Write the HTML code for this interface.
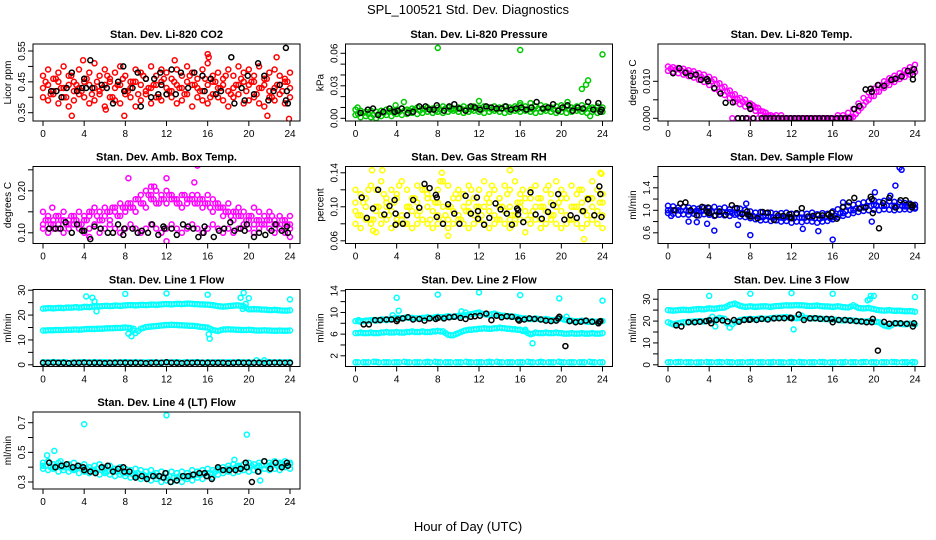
<!DOCTYPE html>
<html><head><meta charset="utf-8"><style>
html,body{margin:0;padding:0;background:#fff;}
svg{display:block;font-family:"Liberation Sans",Arial,sans-serif;}
</style></head><body>
<svg id="chart" width="936" height="540" viewBox="0 0 936 540" xmlns="http://www.w3.org/2000/svg">
<text x="468" y="14" text-anchor="middle" font-size="13">SPL_100521  Std. Dev. Diagnostics</text>
<text x="468" y="531" text-anchor="middle" font-size="13">Hour of Day (UTC)</text>
</svg>
<script>
const halfHours=[0,0.5,1,1.5,2,2.5,3,3.5,4,4.5,5,5.5,6,6.5,7,7.5,8,8.5,9,9.5,10,10.5,11,11.5,12,12.5,13,13.5,14,14.5,15,15.5,16,16.5,17,17.5,18,18.5,19,19.5,20,20.5,21,21.5,22,22.5,23,23.5,24];
const quarterHours=[0.25,0.75,1.25,1.75,2.25,2.75,3.25,3.75,4.25,4.75,5.25,5.75,6.25,6.75,7.25,7.75,8.25,8.75,9.25,9.75,10.25,10.75,11.25,11.75,12.25,12.75,13.25,13.75,14.25,14.75,15.25,15.75,16.25,16.75,17.25,17.75,18.25,18.75,19.25,19.75,20.25,20.75,21.25,21.75,22.25,22.75,23.25,23.75];
const hours=[0,1,2,3,4,5,6,7,8,9,10,11,12,13,14,15,16,17,18,19,20,21,22,23,24];
const quarterZeroHours=[6.25,6.75,7.25,7.75,8.25,8.75,9.25,9.75,10.25,10.75,11.25,11.75,12.25,12.75,13.25,13.75,14.25,14.75,15.25,15.75,16.25,16.75,17.25,17.75];
const quarterZeroVals=[0,0,0,0,0,0,0,0,0,0,0,0,0,0,0,0,0,0,0,0,0,0,0,0];
const xTicks=[0,4,8,12,16,20,24];

// P1 CO2
const co2A=[0.47,0.49,0.46,0.48,0.50,0.47,0.45,0.49,0.46,0.48,0.51,0.47,0.49,0.46,0.48,0.50,0.47,0.45,0.49,0.48,0.46,0.50,0.47,0.49,0.48,0.46,0.49,0.47,0.50,0.48,0.46,0.49,0.51,0.47,0.48,0.46,0.49,0.47,0.50,0.48,0.49,0.47,0.50,0.46,0.48,0.49,0.47,0.46,0.48];
const co2B=[0.43,0.44,0.42,0.45,0.43,0.44,0.42,0.43,0.45,0.44,0.43,0.42,0.44,0.45,0.43,0.44,0.42,0.43,0.45,0.44,0.42,0.43,0.44,0.45,0.43,0.42,0.44,0.43,0.45,0.44,0.43,0.42,0.44,0.45,0.43,0.44,0.42,0.43,0.44,0.45,0.44,0.45,0.43,0.44,0.42,0.43,0.44,0.45,0.43];
const co2C=[0.40,0.39,0.41,0.38,0.40,0.37,0.39,0.41,0.40,0.38,0.39,0.41,0.37,0.40,0.39,0.38,0.41,0.40,0.37,0.39,0.41,0.38,0.40,0.39,0.41,0.40,0.38,0.39,0.41,0.37,0.40,0.39,0.38,0.41,0.40,0.39,0.37,0.40,0.41,0.38,0.39,0.40,0.38,0.37,0.40,0.39,0.41,0.38,0.40];
const co2D=[0.45,0.41,0.46,0.43,0.40,0.47,0.44,0.42,0.46,0.41,0.45,0.43,0.47,0.40,0.44,0.46,0.42,0.45,0.41,0.47,0.43,0.44,0.40,0.46,0.42,0.45,0.43,0.41,0.47,0.44,0.42,0.46,0.40,0.45,0.43,0.47,0.41,0.44,0.46,0.42,0.45,0.41,0.43,0.46,0.40,0.44,0.42,0.45];
const co2OutH=[3.9,2.8,7.9,16,16.1,22.7,23.9,12.8,21.8,6.1];
const co2OutV=[0.52,0.34,0.34,0.54,0.53,0.53,0.33,0.52,0.34,0.36];
const co2KH=[0.8,1.3,1.8,2.3,2.8,3.3,3.8,4,4.2,4.6,4.8,5.7,6.2,6.8,7.3,7.8,7.9,8.7,9.2,9.5,10,10.5,10.8,11.2,11.4,11.5,12,12.5,12.9,13.4,14.1,14.7,15.5,15.7,16.3,16.8,17.3,18.3,18.6,19.3,19.6,19.9,20.5,20.9,21.5,21.9,22.4,23,23.6,23.7,23.6,23.8];
const co2KV=[0.42,0.42,0.40,0.43,0.48,0.42,0.43,0.46,0.43,0.52,0.43,0.44,0.43,0.38,0.45,0.50,0.42,0.43,0.48,0.37,0.46,0.40,0.46,0.41,0.48,0.44,0.41,0.49,0.41,0.48,0.43,0.48,0.47,0.42,0.46,0.41,0.42,0.53,0.38,0.43,0.39,0.47,0.41,0.51,0.47,0.39,0.42,0.44,0.56,0.42,0.39,0.38];

// P2 pressure
const prA=[0.008,0.007,0.006,0.007,0.006,0.007,0.008,0.007,0.008,0.009,0.008,0.009,0.010,0.009,0.010,0.009,0.010,0.011,0.010,0.009,0.010,0.011,0.010,0.011,0.010,0.011,0.010,0.011,0.010,0.011,0.010,0.011,0.012,0.011,0.010,0.011,0.012,0.011,0.010,0.011,0.012,0.011,0.010,0.011,0.012,0.011,0.010,0.011,0.010];
const prB=[0.003,0.001,0.002,0.001,0.000,0.002,0.003,0.002,0.004,0.003,0.004,0.005,0.004,0.005,0.006,0.005,0.006,0.005,0.006,0.007,0.006,0.005,0.006,0.007,0.006,0.005,0.006,0.007,0.006,0.005,0.006,0.007,0.006,0.007,0.006,0.005,0.006,0.007,0.006,0.005,0.006,0.005,0.006,0.007,0.006,0.005,0.006,0.005,0.006];
const prC=[0.004,0.005,0.004,0.003,0.004,0.005,0.006,0.005,0.006,0.007,0.007,0.008,0.007,0.008,0.008,0.007,0.008,0.009,0.008,0.008,0.009,0.008,0.008,0.009,0.008,0.009,0.008,0.008,0.009,0.008,0.009,0.008,0.009,0.008,0.008,0.009,0.008,0.009,0.008,0.008,0.009,0.008,0.009,0.008,0.008,0.009,0.008,0.008];
const prOutH=[8,16,24,22,22.4,22.6,4.7,12,16,17,20.6,3.9,22.8,0.2];
const prOutV=[0.065,0.063,0.059,0.027,0.031,0.035,0.015,0.016,0.014,0.014,0.015,0.012,0.002,0.010];
const prKH=[0.5,1.2,1.7,2.2,2.7,3.3,3.8,4.1,4.5,5.1,5.6,6.2,6.8,7.2,7.6,7.9,8.6,9.1,9.6,10.1,10.7,11.2,11.6,12.1,12.7,13.2,13.7,14.2,14.6,15.1,15.6,16.1,16.6,17.1,17.6,18.2,18.7,19.2,19.7,20.1,20.6,21.1,21.6,22.1,22.6,23.1,23.6,23.8,23.9];
const prKV=[0.005,0.008,0.009,0.003,0.006,0.009,0.006,0.007,0.009,0.005,0.006,0.011,0.011,0.008,0.008,0.012,0.007,0.011,0.013,0.009,0.007,0.011,0.010,0.008,0.011,0.010,0.009,0.009,0.011,0.008,0.009,0.010,0.008,0.010,0.015,0.009,0.010,0.013,0.007,0.010,0.012,0.007,0.010,0.009,0.015,0.008,0.014,0.006,0.008];

// P3 Li-820 temp
const ltA=[0.0140,0.0138,0.0136,0.0134,0.0130,0.0127,0.0122,0.0118,0.0112,0.0105,0.0095,0.0085,0.0075,0.0065,0.0055,0.0050,0.0040,0.0030,0.0020,0.0015,0.0008,0.0008,0.0008,0,0,0,0,0,0,0,0,0,0,0.0008,0.0008,0.0015,0.0025,0.0040,0.0055,0.0070,0.0080,0.0090,0.0100,0.0108,0.0115,0.0122,0.0130,0.0138,0.0145];
const ltB=[0.0128,0.0125,0.0122,0.0118,0.0114,0.0110,0.0104,0.0098,0.0090,0.0080,0.0072,0.0063,0.0055,0.0045,0.0038,0.0032,0.0028,0.0020,0.0010,0.0002,0,0,0,0,0,0,0,0,0,0,0,0,0,0,0,0,0.0004,0.0020,0.0035,0.0050,0.0060,0.0072,0.0082,0.0090,0.0098,0.0106,0.0112,0.0118,0.0125];
const ltC=[0.0134,0.0132,0.0130,0.0126,0.0122,0.0118,0.0112,0.0106,0.0100,0.0092,0.0082,0.0072,0.0062,0.0052,0.0045,0.0040,0.0035,0.0028,0.0018,0.0008,0.0004,0,0,0,0,0,0,0,0,0,0,0,0,0,0,0.0004,0.0012,0.0028,0.0045,0.0060,0.0072,0.0084,0.0094,0.0102,0.0110,0.0116,0.0124,0.0132];
const ltKH=[0.5,1.1,1.7,2.2,2.7,3.2,3.8,3.9,4.5,5.1,5.6,6.3,7.9,8.0,6.8,7.2,7.6,8.3,9.1,9.5,9.9,10.3,10.7,11.1,11.5,11.9,12.3,12.7,13.1,13.5,13.9,14.3,14.7,15.1,15.5,15.9,16.4,16.8,17.2,17.6,18.1,18.6,19.2,19.7,19.8,20.4,21,21.7,22.1,22.7,23.3,23.8,23.9,23.8];
const ltKV=[0.0122,0.0135,0.0123,0.0115,0.0118,0.0104,0.0106,0.0100,0.0082,0.0067,0.0042,0.0043,0.0035,0.0025,0,0,0,0,0,0,0,0,0,0,0,0,0,0,0,0,0,0,0,0,0,0,0,0,0,0,0.0025,0.0033,0.0078,0.0080,0.0072,0.0090,0.0088,0.0104,0.0107,0.0113,0.0128,0.0118,0.0133,0.0105];

// P4 ambient box temp
const abA=[0.15,0.14,0.13,0.14,0.15,0.13,0.14,0.15,0.14,0.15,0.16,0.15,0.16,0.15,0.16,0.17,0.16,0.17,0.18,0.19,0.20,0.19,0.20,0.19,0.20,0.19,0.18,0.19,0.18,0.19,0.19,0.18,0.19,0.18,0.17,0.16,0.17,0.15,0.16,0.15,0.14,0.16,0.15,0.14,0.15,0.13,0.14,0.13,0.14];
const abB=[0.12,0.13,0.12,0.11,0.13,0.12,0.13,0.12,0.13,0.14,0.12,0.13,0.14,0.13,0.15,0.14,0.15,0.16,0.15,0.17,0.16,0.18,0.17,0.18,0.17,0.18,0.17,0.16,0.17,0.18,0.17,0.16,0.17,0.15,0.16,0.14,0.15,0.13,0.14,0.12,0.13,0.12,0.13,0.12,0.13,0.12,0.11,0.12,0.12];
const abC=[0.11,0.10,0.11,0.12,0.10,0.11,0.12,0.11,0.10,0.11,0.12,0.10,0.11,0.12,0.11,0.10,0.11,0.12,0.11,0.10,0.11,0.12,0.11,0.10,0.11,0.12,0.11,0.10,0.11,0.12,0.11,0.10,0.11,0.12,0.11,0.10,0.11,0.10,0.11,0.12,0.11,0.10,0.11,0.12,0.11,0.10,0.11,0.10,0.11];
const abD=[0.13,0.12,0.14,0.13,0.12,0.14,0.13,0.12,0.13,0.15,0.14,0.13,0.15,0.16,0.14,0.16,0.17,0.16,0.18,0.17,0.19,0.18,0.17,0.18,0.19,0.18,0.17,0.19,0.18,0.17,0.18,0.17,0.16,0.17,0.16,0.15,0.14,0.15,0.14,0.13,0.14,0.13,0.12,0.13,0.14,0.12,0.13,0.12];
const abOutH=[8.3,12,14.7,15,0.9,4.5,12,24,10.5,10.8];
const abOutV=[0.23,0.23,0.22,0.26,0.16,0.09,0.08,0.09,0.21,0.21];
const abKH=[0.6,1.2,1.7,2.2,2.8,3.3,3.8,4.0,4.6,5.0,5.6,6.3,6.8,7.3,7.8,7.9,8.7,9.2,9.6,10.2,10.6,11.2,11.7,11.8,12.5,13.0,13.6,14.1,14.6,15.1,15.6,15.7,16.6,17.1,17.6,18.2,18.6,19.2,19.6,19.8,20.5,21.0,21.6,22.2,22.6,23.2,23.7,23.8];
const abKV=[0.11,0.11,0.11,0.125,0.10,0.12,0.105,0.105,0.085,0.115,0.11,0.10,0.10,0.12,0.095,0.11,0.11,0.10,0.105,0.10,0.12,0.095,0.115,0.11,0.11,0.095,0.12,0.115,0.11,0.09,0.10,0.115,0.09,0.105,0.11,0.125,0.105,0.11,0.105,0.12,0.09,0.10,0.095,0.105,0.12,0.105,0.115,0.10];

// P5 RH
const rhA=[0.12,0.115,0.11,0.125,0.12,0.13,0.11,0.12,0.115,0.13,0.12,0.11,0.125,0.12,0.115,0.11,0.12,0.13,0.125,0.11,0.12,0.115,0.125,0.11,0.12,0.13,0.115,0.12,0.11,0.125,0.12,0.13,0.115,0.11,0.12,0.125,0.11,0.12,0.115,0.13,0.12,0.11,0.125,0.115,0.12,0.11,0.13,0.12,0.115];
const rhB=[0.095,0.09,0.1,0.085,0.095,0.09,0.1,0.095,0.085,0.09,0.1,0.095,0.09,0.085,0.1,0.095,0.09,0.1,0.085,0.095,0.09,0.1,0.095,0.09,0.085,0.1,0.095,0.09,0.1,0.095,0.085,0.09,0.1,0.095,0.09,0.1,0.085,0.095,0.09,0.1,0.095,0.09,0.085,0.1,0.095,0.09,0.1,0.095,0.09];
const rhC=[0.08,0.075,0.085,0.08,0.07,0.08,0.085,0.075,0.08,0.085,0.08,0.075,0.08,0.085,0.08,0.075,0.08,0.085,0.075,0.08,0.085,0.08,0.075,0.08,0.085,0.08,0.075,0.08,0.085,0.08,0.075,0.08,0.085,0.07,0.08,0.085,0.075,0.08,0.085,0.08,0.075,0.08,0.085,0.08,0.075,0.08,0.085,0.08,0.075];
const rhD=[0.105,0.11,0.1,0.105,0.11,0.1,0.105,0.11,0.105,0.1,0.11,0.105,0.1,0.105,0.11,0.1,0.105,0.11,0.1,0.105,0.11,0.1,0.105,0.11,0.105];
const rhE=[0.09,0.105,0.12,0.085,0.1,0.115,0.09,0.105,0.125,0.08,0.1,0.11,0.095,0.12,0.085,0.105,0.13,0.09,0.1,0.115,0.085,0.095,0.12,0.1,0.09,0.11,0.125,0.085,0.1,0.115,0.09,0.105,0.12,0.085,0.095,0.11,0.1,0.125,0.09,0.105,0.115,0.085,0.1,0.12,0.095,0.11,0.09,0.105];
const rhOutH=[1.6,2.6,15,8.4,23.8,23.9,9,22.2,1.7];
const rhOutV=[0.143,0.143,0.143,0.14,0.14,0.139,0.066,0.062,0.072];
const rhKH=[0.6,1.1,1.7,2.2,2.8,3.3,3.8,3.9,3.9,4.6,5.0,5.6,6.2,6.7,7.2,7.8,7.9,7.9,8.5,9.0,9.6,10.1,10.7,11.2,11.8,11.9,11.9,12.5,13.0,13.6,14.1,14.7,15.2,15.7,15.8,15.8,16.3,17.0,17.5,18.1,18.7,19.2,19.7,20.3,20.9,21.5,22.1,22.6,23.2,23.7,23.8,23.9];
const rhKV=[0.111,0.087,0.098,0.12,0.091,0.101,0.108,0.092,0.079,0.08,0.09,0.108,0.099,0.127,0.122,0.114,0.111,0.088,0.08,0.103,0.092,0.08,0.113,0.092,0.111,0.086,0.095,0.079,0.087,0.104,0.097,0.092,0.079,0.098,0.096,0.091,0.082,0.117,0.091,0.086,0.094,0.102,0.115,0.085,0.09,0.087,0.095,0.109,0.09,0.124,0.115,0.088];

// P6 sample flow
const sfA=[1.08,1.07,1.05,1.06,1.05,1.04,1.03,1.05,1.04,1.06,1.03,1.05,1.02,1.04,1.03,1.01,0.98,0.96,0.97,0.95,0.96,0.94,0.95,0.96,0.94,0.93,0.95,0.94,0.96,0.93,0.95,0.94,0.98,1.02,1.05,1.08,1.10,1.12,1.14,1.16,1.18,1.15,1.17,1.16,1.15,1.14,1.13,1.12,1.10];
const sfB=[0.95,0.94,0.92,0.93,0.92,0.94,0.91,0.93,0.92,0.90,0.92,0.91,0.90,0.92,0.89,0.88,0.86,0.84,0.82,0.83,0.81,0.82,0.80,0.81,0.78,0.80,0.79,0.81,0.80,0.78,0.80,0.81,0.84,0.88,0.90,0.92,0.95,0.97,0.99,1.00,1.01,1.00,1.02,1.01,1.00,1.01,1.02,1.01,1.03];
const sfC=[1.0,1.0,0.98,0.99,0.98,0.97,0.97,0.95,0.90,0.88,0.88,0.87,0.86,0.87,0.87,0.87,0.88,0.95,1.00,1.05,1.10,1.08,1.08,1.07,1.05];
const sfD=[1.01,1.0,0.99,1.0,0.98,0.99,0.98,0.99,0.97,0.98,0.97,0.96,0.95,0.94,0.95,0.92,0.90,0.89,0.88,0.89,0.87,0.88,0.86,0.87,0.86,0.87,0.86,0.87,0.86,0.85,0.87,0.86,0.90,0.95,0.98,1.00,1.03,1.05,1.07,1.08,1.09,1.08,1.09,1.08,1.07,1.08,1.07,1.06];
const sfOutH=[0.3,2,2.8,3.8,4.5,8,7.6,13.1,14.6,16,17,20.1,21.6,22.1,22.5,22.7,19.8,6.8];
const sfOutV=[0.9,0.8,0.79,0.76,0.64,0.56,1.12,0.67,0.63,0.48,1.14,1.32,1.26,1.44,1.76,1.72,0.8,0.74];
const sfKH=[0.6,1.2,1.7,2.2,2.8,3.3,3.8,3.9,4.0,4.6,5.0,5.6,6.2,6.7,7.2,7.7,7.8,8.0,8.7,9.2,9.7,10.3,10.7,11.2,11.8,11.9,12.0,12.5,13.0,13.6,14.1,14.6,15.0,15.6,15.8,15.9,16.4,17.0,17.6,18.1,18.6,19.2,19.7,19.8,19.9,20.5,20.9,21.5,22.1,22.6,23.1,23.6,23.7,23.8];
const sfKV=[1.0,1.12,1.14,1.0,0.91,1.06,0.97,1.05,0.95,0.91,0.98,0.92,1.09,1.04,0.93,0.98,0.92,0.89,0.86,0.97,0.96,0.83,0.91,0.90,0.93,0.88,0.86,0.95,1.04,0.89,0.90,0.91,0.91,0.92,0.89,0.96,0.85,1.06,1.14,1.22,1.03,1.05,1.24,1.20,0.95,0.68,1.13,1.22,1.05,1.18,1.18,1.10,1.05,1.09];

// P7 line 1
const l1A=[22.6,22.8,22.7,22.9,22.8,23.0,23.1,23.0,23.3,23.2,23.4,23.5,23.7,23.6,23.8,23.7,23.9,24.0,23.9,24.1,24.0,24.2,24.1,24.3,24.4,24.3,24.5,24.4,24.6,24.5,24.4,24.3,24.2,24.0,23.6,23.4,23.6,23.8,23.9,23.5,22.3,22.4,22.3,22.2,22.0,22.1,21.9,21.8,21.9];
const l1D=[22.7,22.8,22.8,22.9,23.0,23.0,23.2,23.1,23.3,23.4,23.6,23.6,23.7,23.7,23.8,23.8,24.0,24.0,24.0,24.1,24.1,24.2,24.2,24.4,24.4,24.4,24.5,24.5,24.6,24.4,24.3,24.2,24.1,23.8,23.5,23.5,23.7,23.9,23.7,22.9,22.3,22.3,22.2,22.1,22.0,22.0,21.8,21.8];
const l1B=[13.8,13.9,13.9,14.0,14.0,14.1,14.2,14.1,14.3,14.4,14.4,14.5,14.6,14.7,14.8,14.8,15.0,14.8,12.8,14.5,15.2,15.4,15.6,15.8,16.0,16.1,16.0,15.9,15.8,15.7,15.5,15.2,15.0,14.0,13.6,14.2,14.3,14.2,14.1,14.0,14.1,13.9,13.8,13.9,13.8,13.7,13.8,13.7,13.8];
const l1E=[13.8,13.9,14.0,14.0,14.1,14.1,14.2,14.2,14.4,14.4,14.5,14.5,14.7,14.7,14.8,14.9,14.9,13.8,13.6,14.8,15.3,15.5,15.7,15.9,16.0,16.0,15.9,15.8,15.7,15.6,15.3,15.1,14.5,13.8,13.9,14.2,14.2,14.1,14.0,14.0,14.0,13.8,13.8,13.8,13.7,13.7,13.7,13.7];
const l1C=[1.0,1.1,1.0,0.9,1.0,1.1,1.0,1.0,1.1,1.0,0.9,1.0,1.1,1.0,1.0,1.1,1.0,0.9,1.0,1.1,1.0,1.0,1.1,1.0,1.0];
const l1F=[1.0,1.0,1.1,1.0,1.0,0.9,1.0,1.1,1.0,1.0,1.0,1.1,1.0,0.9,1.0,1.0,1.1,1.0,1.0,1.0,1.1,1.0,0.9,1.0,1.0,1.1,1.0,1.0,1.0,1.1,1.0,0.9,1.0,1.0,1.1,1.0,1.0,1.0,1.1,1.0,0.9,1.8,1.0,1.1,1.0,1.0,1.0,1.1];
const l1OutH=[4.2,4.8,5,5.2,8,12,16,19.5,19.2,19.4,19.7,20,24,8.3,8.6,8.8,16.2,16.1,21.5];
const l1OutV=[27.5,27,25.5,21.5,28.5,28.7,28.2,29,27,22.5,24.5,26.8,26.3,12.5,11.5,14.5,10.5,12.3,1.8];
const l1K=[0.8,0.8,0.9,0.8,0.8,0.7,0.8,0.8,0.9,0.8,0.8,0.8,0.7,0.8,0.8,0.9,0.8,0.8,0.8,0.8,0.7,0.8,0.9,0.8,1.0,0.8,0.8,0.7,0.8,0.8,0.9,0.8,0.8,0.8,0.8,0.8,0.7,0.8,0.9,0.8,0.8,0.8,0.8,0.7,0.8,0.9,0.8,0.8,0.8];

// P8 line 2
const l2A=[8.4,8.3,8.5,8.6,8.5,8.7,8.6,8.8,9.0,8.9,9.1,9.0,8.9,9.0,9.1,9.0,9.2,9.1,9.3,9.2,9.4,9.5,9.6,9.8,10.0,9.7,9.6,9.8,9.5,9.4,9.3,9.2,9.0,8.9,8.8,8.9,8.7,8.8,8.6,8.7,8.9,8.6,8.5,8.4,8.5,8.3,8.4,8.3,8.4];
const l2D=[8.4,8.4,8.5,8.6,8.6,8.7,8.7,8.9,9.0,9.0,9.0,8.9,8.9,9.0,9.0,9.1,9.1,9.2,9.2,9.3,9.4,9.5,9.7,9.9,9.8,9.6,9.7,9.6,9.4,9.3,9.2,9.1,8.9,8.8,8.8,8.8,8.7,8.7,8.6,8.8,8.7,8.5,8.4,8.4,8.4,8.3,8.3,8.3];
const l2B=[6.2,6.3,6.2,6.3,6.2,6.3,6.4,6.3,6.4,6.3,6.4,6.5,6.4,6.5,6.4,6.5,6.6,6.5,5.9,5.8,6.2,6.6,6.8,6.9,7.0,7.1,7.0,7.1,7.2,7.1,7.0,6.9,6.8,6.5,6.0,6.3,6.2,6.3,6.2,6.3,6.2,6.1,6.2,6.1,6.2,6.1,6.2,6.1,6.2];
const l2E=[6.2,6.2,6.2,6.2,6.2,6.3,6.3,6.3,6.3,6.3,6.4,6.4,6.4,6.4,6.4,6.5,6.5,6.2,5.8,6.0,6.4,6.7,6.8,6.9,7.0,7.0,7.0,7.1,7.1,7.0,6.9,6.8,6.6,6.2,6.1,6.2,6.2,6.2,6.2,6.2,6.1,6.1,6.1,6.1,6.1,6.1,6.1,6.1];
const l2C=[0.8,0.8,0.9,0.8,0.8,0.8,0.8,0.9,0.8,0.8,0.8,0.8,0.8,0.9,0.8,0.8,0.8,0.8,0.9,0.8,0.8,0.8,0.8,0.8,0.8];
const l2F=[0.8,0.8,0.8,0.9,0.8,0.8,0.8,0.8,0.8,0.9,0.8,0.8,0.8,0.8,0.8,0.9,0.8,0.8,0.8,0.8,0.8,0.9,0.8,0.8,0.8,0.8,0.8,0.9,0.8,0.8,0.8,0.8,0.8,0.9,0.8,0.8,0.8,0.8,0.8,0.9,0.8,0.8,0.8,0.8,0.8,0.9,0.8,0.8];
const l2OutH=[8,12,16,19.8,24,4,4.2,10.3,10.7,16.5,17.2,17,3.6,20.5,0.3];
const l2OutV=[13.3,13.7,13.2,12.6,12.2,12.7,10.3,10.2,10,6.8,4.3,6,9.5,9.2,8.6];
const l2KH=[0.8,1.3,1.9,2.4,3.0,3.5,4.0,4.1,4.6,5.1,5.6,6.2,6.7,7.2,7.8,8.0,8.6,9.1,9.6,10.2,10.7,11.2,11.6,12.1,12.7,13.2,13.7,14.2,14.7,15.2,15.8,15.9,16.4,16.9,17.4,18.0,18.5,19.0,19.5,19.7,19.8,20.4,20.8,21.4,21.9,22.4,23.0,23.6,23.7,23.8];
const l2KV=[7.8,7.8,8.6,8.6,8.7,8.7,8.4,8.7,8.9,9.1,8.7,8.8,8.5,8.9,8.8,9.0,8.9,9.1,9.2,9.0,8.8,9.2,9.3,9.4,9.8,8.6,9.4,9.1,9.3,9.2,8.7,8.5,8.7,8.9,8.8,8.7,8.5,8.4,8.5,8.9,9.2,3.8,8.4,8.2,8.3,8.5,8.3,8.0,8.3,8.4];

// P9 line 3
const l3A=[25.0,24.8,25.0,25.2,25.0,25.3,25.5,25.4,25.8,25.6,26.0,26.2,27.5,28.0,27.0,26.5,26.8,26.5,26.7,26.8,26.5,26.9,27.0,27.2,27.1,27.3,27.2,27.0,26.9,27.1,26.8,26.7,26.5,26.8,26.4,26.2,27.2,26.0,25.8,26.0,25.5,25.0,24.8,25.0,24.7,24.8,24.5,24.6,24.3];
const l3D=[24.9,24.9,25.1,25.1,25.1,25.4,25.4,25.6,25.7,25.8,26.1,26.8,27.7,27.5,26.7,26.6,26.6,26.6,26.7,26.6,26.7,26.9,27.1,27.1,27.2,27.2,27.1,26.9,27.0,26.9,26.7,26.6,26.6,26.6,26.3,26.6,26.6,25.9,25.9,25.7,25.2,24.9,24.9,24.8,24.7,24.6,24.5,24.4];
const l3B=[19.5,18.5,19.0,19.5,19.6,19.8,20.0,19.8,20.5,20.2,21.5,21.0,17.0,19.5,20.5,20.8,21.0,20.8,21.2,21.0,21.3,21.5,21.6,21.8,21.5,21.3,21.5,21.4,21.2,21.3,21.0,20.9,20.7,20.5,20.3,20.5,20.2,20.0,19.8,19.9,19.7,19.5,18.0,17.5,19.0,18.8,18.5,18.8,18.5];
const l3E=[19.0,18.7,19.2,19.5,19.7,19.9,19.9,20.1,20.3,20.8,21.2,19.0,18.5,20.0,20.6,20.9,20.9,21.0,21.1,21.1,21.4,21.5,21.7,21.6,21.4,21.4,21.4,21.3,21.2,21.1,20.9,20.8,20.6,20.4,20.4,20.3,20.1,19.9,19.8,19.8,19.6,18.7,17.7,18.2,18.9,18.6,18.6,18.6];
const l3C=[1.2,1.3,1.2,1.1,1.2,1.3,1.2,1.2,1.3,1.2,1.1,1.2,1.3,1.2,1.2,1.3,1.2,1.1,1.2,1.3,1.2,1.2,1.3,1.2,1.2];
const l3F=[1.2,1.2,1.3,1.2,1.2,1.1,1.2,1.3,1.2,1.2,1.2,1.3,1.2,1.1,1.2,1.2,1.3,1.2,1.2,1.2,1.3,1.2,1.1,1.2,1.2,1.3,1.2,1.2,1.2,1.3,1.2,1.1,1.2,1.2,1.3,1.2,1.2,1.2,1.3,1.2,1.1,1.2,1.2,1.3,1.2,1.2,1.2,1.3];
const l3OutH=[4,4.3,8,12,16,20,19.7,19.4,19.6,24,12.2,13,4.6,23.5];
const l3OutV=[31.5,22,32.5,32.8,32.5,31.5,31.5,29.5,30,31,16.2,22.5,17.5,0.1];
const l3KH=[0.8,1.3,2.0,2.6,3.1,3.7,4.0,4.2,4.7,5.3,5.8,6.4,6.9,7.4,7.9,8.0,8.6,9.1,9.7,10.3,10.8,11.3,11.9,12.0,12.7,13.2,13.8,14.3,14.8,15.4,15.9,16.0,16.6,17.2,17.7,18.3,18.8,19.3,19.8,19.9,20.4,21.0,21.5,22.1,22.6,23.2,23.8,23.9];
const l3KV=[18,17.5,19.5,19.5,19.7,20,20.3,19,20.5,20.3,19.8,20.5,19.7,20.5,20.6,20.7,20.5,21,20.7,21.2,21.3,21.3,21.5,21.3,23,20.5,21.2,21.3,21,21,21,19.5,20.5,20.5,20.2,20,19.8,19.5,19.5,21,6.5,19.6,18.8,19,19.0,18.8,17.5,19];

// P10 line 4
const l4A=[0.43,0.44,0.42,0.43,0.41,0.42,0.43,0.41,0.42,0.40,0.41,0.42,0.40,0.41,0.39,0.40,0.39,0.38,0.39,0.38,0.37,0.38,0.36,0.37,0.36,0.37,0.36,0.37,0.36,0.38,0.37,0.38,0.39,0.38,0.39,0.40,0.41,0.42,0.41,0.42,0.43,0.42,0.43,0.44,0.43,0.44,0.43,0.44,0.43];
const l4B=[0.39,0.38,0.39,0.37,0.38,0.37,0.38,0.36,0.37,0.36,0.37,0.35,0.36,0.35,0.34,0.35,0.34,0.33,0.34,0.32,0.33,0.31,0.32,0.30,0.31,0.30,0.31,0.30,0.32,0.31,0.33,0.32,0.34,0.33,0.35,0.36,0.37,0.36,0.37,0.38,0.37,0.38,0.37,0.39,0.38,0.39,0.38,0.40,0.39];
const l4C=[0.41,0.40,0.40,0.39,0.39,0.38,0.37,0.37,0.36,0.35,0.34,0.34,0.33,0.33,0.34,0.35,0.36,0.38,0.39,0.40,0.40,0.41,0.41,0.42,0.42];
const l4D=[0.41,0.40,0.41,0.40,0.40,0.39,0.40,0.39,0.39,0.38,0.39,0.38,0.37,0.38,0.37,0.36,0.36,0.35,0.36,0.35,0.34,0.35,0.34,0.33,0.34,0.33,0.34,0.33,0.34,0.35,0.35,0.36,0.36,0.37,0.38,0.38,0.39,0.40,0.39,0.40,0.41,0.40,0.41,0.41,0.42,0.41,0.42,0.41];
const l4OutH=[4,12,19.8,0.4,1.1,1.7,18.6,21.1];
const l4OutV=[0.69,0.75,0.62,0.48,0.51,0.44,0.45,0.31];
const l4KH=[0.6,1.2,1.8,2.3,2.9,3.4,3.9,4.0,4.6,5.1,5.7,6.3,6.8,7.3,7.8,7.9,8.4,9.0,9.6,10.1,10.7,11.3,11.7,11.9,12.4,13.0,13.6,14.1,14.6,15.2,15.7,15.9,16.4,17.0,17.5,18.1,18.7,19.2,19.7,19.8,20.3,20.9,21.5,22.1,22.6,23.2,23.7,23.8];
const l4KV=[0.43,0.40,0.41,0.42,0.40,0.41,0.40,0.38,0.37,0.36,0.40,0.41,0.37,0.39,0.40,0.37,0.37,0.33,0.34,0.32,0.34,0.34,0.33,0.36,0.30,0.31,0.34,0.34,0.35,0.36,0.36,0.34,0.32,0.40,0.38,0.38,0.38,0.39,0.43,0.40,0.30,0.37,0.44,0.39,0.43,0.40,0.43,0.41];

const RED='#ff0000',GRN='#00c800',MAG='#ff00ff',YEL='#ffff00',BLU='#0000ff',CYA='#00ffff',BLK='#000000';
const panels=[
 {name:'co2',col:0,row:0,title:'Stan. Dev. Li-820 CO2',ylab:'Licor ppm',ref:[0.35,68.7,0.55,7],ticks:[0.35,0.40,0.45,0.50,0.55],labels:['0.35',null,'0.45',null,'0.55'],
  series:[[halfHours,co2A,RED],[halfHours,co2B,RED],[halfHours,co2C,RED],[quarterHours,co2D,RED],[co2OutH,co2OutV,RED],[co2KH,co2KV,BLK]]},
 {name:'pressure',col:1,row:0,title:'Stan. Dev. Li-820 Pressure',ylab:'kPa',ref:[0,74.3,0.06,9.3],ticks:[0,0.01,0.02,0.03,0.04,0.05,0.06],labels:['0.00',null,null,'0.03',null,null,'0.06'],
  series:[[halfHours,prA,GRN],[halfHours,prB,GRN],[quarterHours,prC,GRN],[prOutH,prOutV,GRN],[prKH,prKV,BLK]]},
 {name:'li820-temp',col:2,row:0,title:'Stan. Dev. Li-820 Temp.',ylab:'degrees C',ref:[0,74.3,0.01,37.3],ticks:[0,0.005,0.01],labels:['0.000',null,'0.010'],
  series:[[halfHours,ltA,MAG],[halfHours,ltB,MAG],[quarterHours,ltC,MAG],[quarterZeroHours,quarterZeroVals,MAG],[ltKH,ltKV,BLK]]},
 {name:'amb-box-temp',col:0,row:1,title:'Stan. Dev. Amb. Box Temp.',ylab:'degrees C',ref:[0.10,66.3,0.20,24.3],ticks:[0.10,0.15,0.20,0.25],labels:['0.10',null,'0.20',null],
  series:[[halfHours,abA,MAG],[halfHours,abB,MAG],[halfHours,abC,MAG],[quarterHours,abD,MAG],[abOutH,abOutV,MAG],[abKH,abKV,BLK]]},
 {name:'gas-stream-rh',col:1,row:1,title:'Stan. Dev. Gas Stream RH',ylab:'percent',ref:[0.06,74.3,0.14,6.3],ticks:[0.06,0.08,0.10,0.12,0.14],labels:['0.06',null,'0.10',null,'0.14'],
  series:[[halfHours,rhA,YEL],[halfHours,rhB,YEL],[halfHours,rhC,YEL],[hours,rhD,YEL],[quarterHours,rhE,YEL],[rhOutH,rhOutV,YEL],[rhKH,rhKV,BLK]]},
 {name:'sample-flow',col:2,row:1,title:'Stan. Dev. Sample Flow',ylab:'ml/min',ref:[0.6,66.3,1.4,21.3],ticks:[0.6,0.8,1.0,1.2,1.4,1.6],labels:['0.6',null,'1.0',null,'1.4',null],
  series:[[halfHours,sfA,BLU],[halfHours,sfB,BLU],[hours,sfC,BLU],[quarterHours,sfD,BLU],[sfOutH,sfOutV,BLU],[sfKH,sfKV,BLK]]},
 {name:'line1-flow',col:0,row:2,title:'Stan. Dev. Line 1 Flow',ylab:'ml/min',ref:[0,75.3,30,0.7],ticks:[0,5,10,15,20,25,30],labels:['0',null,'10',null,'20',null,'30'],
  series:[[halfHours,l1A,CYA],[quarterHours,l1D,CYA],[halfHours,l1B,CYA],[quarterHours,l1E,CYA],[hours,l1C,CYA],[quarterHours,l1F,CYA],[l1OutH,l1OutV,CYA],[halfHours,l1K,BLK]]},
 {name:'line2-flow',col:1,row:2,title:'Stan. Dev. Line 2 Flow',ylab:'ml/min',ref:[2,66.3,14,1.3],ticks:[2,4,6,8,10,12,14],labels:['2',null,'6',null,'10',null,'14'],
  series:[[halfHours,l2A,CYA],[quarterHours,l2D,CYA],[halfHours,l2B,CYA],[quarterHours,l2E,CYA],[hours,l2C,CYA],[quarterHours,l2F,CYA],[l2OutH,l2OutV,CYA],[l2KH,l2KV,BLK]]},
 {name:'line3-flow',col:2,row:2,title:'Stan. Dev. Line 3 Flow',ylab:'ml/min',ref:[0,75.3,30,9.7],ticks:[0,5,10,15,20,25,30],labels:['0',null,'10',null,'20',null,'30'],
  series:[[halfHours,l3A,CYA],[quarterHours,l3D,CYA],[halfHours,l3B,CYA],[quarterHours,l3E,CYA],[hours,l3C,CYA],[quarterHours,l3F,CYA],[l3OutH,l3OutV,CYA],[l3KH,l3KV,BLK]]},
 {name:'line4-flow',col:0,row:3,title:'Stan. Dev. Line 4 (LT) Flow',ylab:'ml/min',ref:[0.3,70,0.7,10.7],ticks:[0.3,0.4,0.5,0.6,0.7],labels:['0.3',null,'0.5',null,'0.7'],
  series:[[halfHours,l4A,CYA],[halfHours,l4B,CYA],[hours,l4C,CYA],[quarterHours,l4D,CYA],[l4OutH,l4OutV,CYA],[l4KH,l4KV,BLK]]}
];
const NS='http://www.w3.org/2000/svg';
const svg=document.getElementById('chart');
const colX=[33,345.5,658], rowY=[44,166.5,289.5,412], BW=267, BH=77;
function mk(tag,attrs,parent){const e=document.createElementNS(NS,tag);for(const k in attrs)e.setAttribute(k,attrs[k]);(parent||svg).appendChild(e);return e;}
panels.forEach(p=>{
  const bx=colX[p.col], by=rowY[p.row];
  const g=mk('g',{});
  
  
  const xs=h=>bx+10+h*(247/24);
  const ys=v=>by+p.ref[1]+(v-p.ref[0])*(p.ref[3]-p.ref[1])/(p.ref[2]-p.ref[0]);
  const clip=mk('clipPath',{id:'c'+p.name},g);
  mk('rect',{x:bx,y:by,width:BW,height:BH},clip);
  const t=mk('text',{x:bx+BW/2,y:by-6,'text-anchor':'middle','font-size':'11','font-weight':'bold'},g);
  t.textContent=p.title;
  
  
  const yl=mk('text',{x:0,y:0,transform:`translate(${bx-22},${by+BH/2}) rotate(-90)`,'text-anchor':'middle','font-size':'10'},g);
  yl.textContent=p.ylab;
  
  
  const pts=mk('g',{'clip-path':`url(#c${p.name})`,fill:'none','stroke-width':'1.5'},g);
  
  
  p.series.forEach(s=>{
    const H=s[0],V=s[1],n=Math.min(H.length,V.length);
    for(let i=0;i<n;i++){
      const c=mk('circle',{cx:xs(H[i]).toFixed(1),cy:ys(V[i]).toFixed(1),r:'2.5',stroke:s[2]},pts);
      
      
    }
  });
  const fr=mk('rect',{x:bx,y:by,width:BW,height:BH,fill:'none',stroke:'#000','stroke-width':'1'},g);
  
  
  mk('line',{x1:xs(0),x2:xs(24),y1:by+BH,y2:by+BH,stroke:'#000'},g);
  xTicks.forEach(h=>{
    mk('line',{x1:xs(h),x2:xs(h),y1:by+BH,y2:by+BH+5,stroke:'#000'},g);
    const tl=mk('text',{x:xs(h),y:by+BH+16,'text-anchor':'middle','font-size':'10'},g);
    tl.textContent=h;
    
    
  });
  const t0=p.ticks[0],t1=p.ticks[p.ticks.length-1];
  mk('line',{x1:bx,x2:bx,y1:ys(t0),y2:ys(t1),stroke:'#000'},g);
  p.ticks.forEach((v,i)=>{
    mk('line',{x1:bx-5,x2:bx,y1:ys(v),y2:ys(v),stroke:'#000'},g);
    if(p.labels[i]){
      const yt=mk('text',{x:0,y:0,transform:`translate(${bx-8},${ys(v)}) rotate(-90)`,'text-anchor':'middle','font-size':'10'},g);
      yt.textContent=p.labels[i];
      
      
    }
  });
});
</script>
</body></html>
